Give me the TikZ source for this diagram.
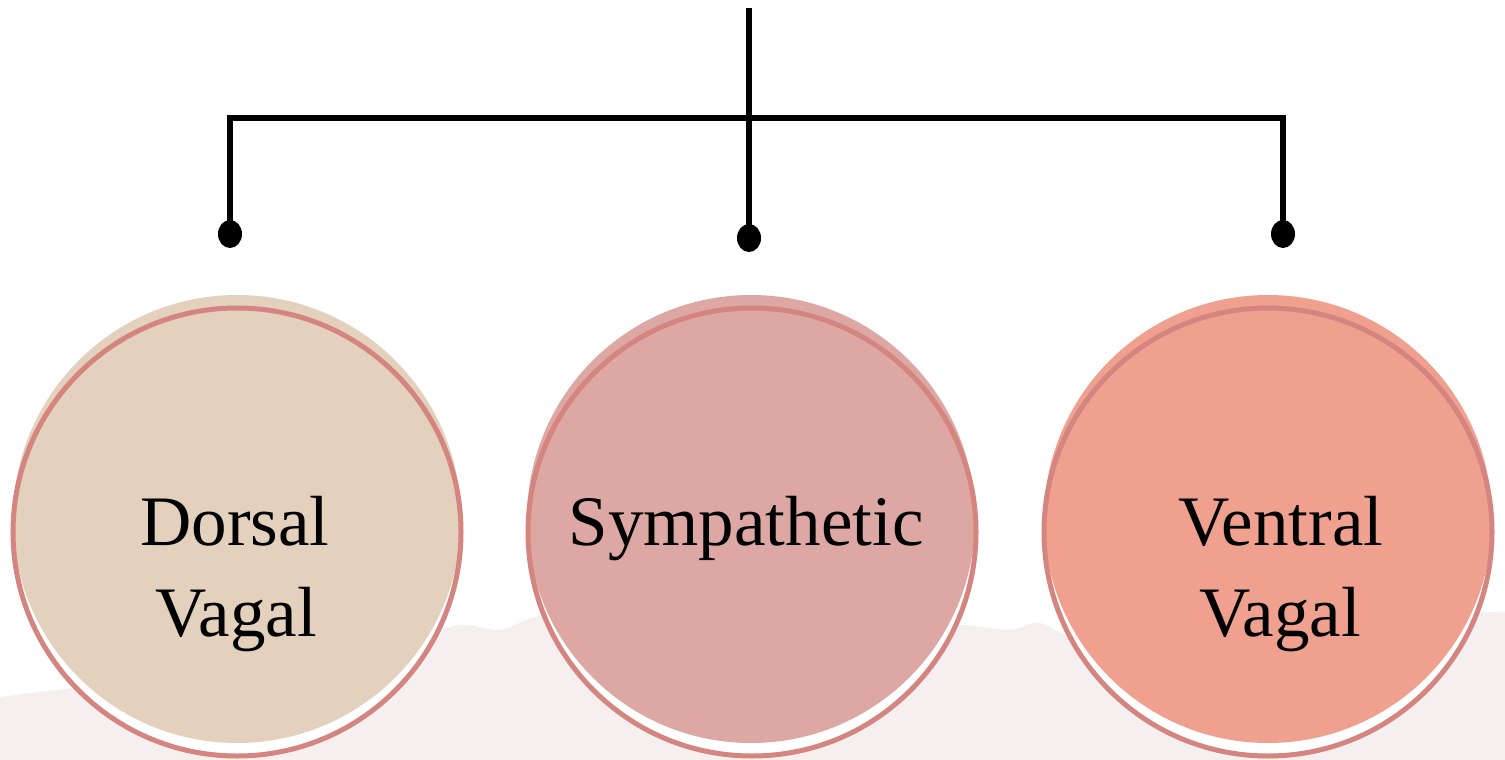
\documentclass[tikz,border=0pt]{standalone}
\usepackage{fontspec}
\setmainfont{Liberation Serif}
\usetikzlibrary{shapes.geometric}
\definecolor{ringc}{HTML}{D5857F}
\definecolor{dorsalc}{HTML}{E4D1BD}
\definecolor{sympc}{HTML}{DDA8A3}
\definecolor{ventralc}{HTML}{EFA08F}
\definecolor{texc}{HTML}{F6EFEF}
\tikzset{
  conn/.style={line width=6pt, black, line join=miter},
  dotnode/.style={ellipse, fill=black, minimum width=24pt, minimum height=28pt, inner sep=0pt},
  diskbase/.style={circle, fill=white, minimum size=448pt, inner sep=0pt},
  disk/.style={circle, minimum size=448pt, inner sep=0pt},
  ringnode/.style={circle, draw=ringc, line width=5pt, minimum size=448pt, inner sep=0pt},
  lbl/.style={font=\fontsize{71}{91}\selectfont, anchor=base, inner sep=0pt}
}
\begin{document}
\begin{tikzpicture}[x=1pt,y=-1pt]
\useasboundingbox (0,0) rectangle (1505,760);
\fill[white] (0,0) rectangle (1505,760);
% background texture
\fill[texc] (0,760) -- plot[smooth] coordinates {(0,697) (40,692) (120,682) (250,662) (400,640) (460,625) (500,630) (540,616) (600,618) (700,625) (800,630) (900,628) (960,625) (1010,630) (1040,623) (1090,643) (1200,638) (1350,625) (1450,614) (1505,612)} -- (1505,760) -- cycle;
% circles
\node[diskbase] (dvw) at (237,532) {};
\node[disk, fill=dorsalc] (dvf) at (237,519) {};
\node[ringnode] (dv) at (237,532) {};
\node[diskbase] (syw) at (752,532) {};
\node[disk, fill=sympc] (syf) at (751,519) {};
\node[ringnode] (sy) at (752,532) {};
\node[diskbase] (vvw) at (1268,532) {};
\node[disk, fill=ventralc] (vvf) at (1268,519) {};
\node[ringnode] (vv) at (1268,532) {};
% labels
\node[lbl] (t1) at (235,545) {Dorsal};
\node[lbl] (t2) at (236,636) {Vagal};
\node[lbl] (t3) at (746,545) {Sympathetic};
\node[lbl] (t4) at (1281,545) {Ventral};
\node[lbl] (t5) at (1280,636) {Vagal};
% connectors
\coordinate (top) at (749,8);
\coordinate (jl) at (230,118);
\coordinate (jr) at (1283,118);
\node[dotnode] (d1) at (230,234) {};
\node[dotnode] (d2) at (749,238) {};
\node[dotnode] (d3) at (1283,234) {};
\draw[conn] (top) -- (d2.center);
\draw[conn] (d1.center) -- (jl) -- (jr) -- (d3.center);
\end{tikzpicture}
\end{document}
